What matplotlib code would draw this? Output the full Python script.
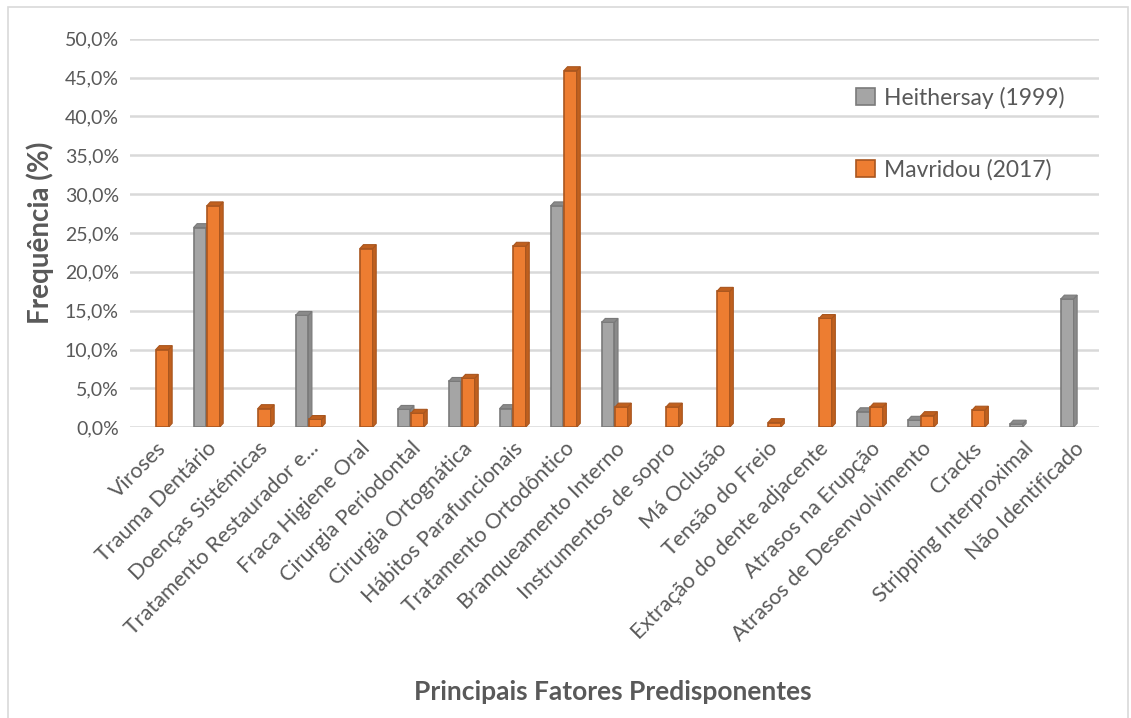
import numpy as np
import matplotlib.pyplot as plt
from matplotlib.patches import Polygon, Rectangle
from matplotlib.ticker import FuncFormatter

plt.rcParams['font.family'] = ['Lato', 'DejaVu Sans']

fatores = ['Viroses', 'Trauma Dentário', 'Doenças Sistémicas', 'Tratamento Restaurador e...',
           'Fraca Higiene Oral', 'Cirurgia Periodontal', 'Cirurgia Ortognática',
           'Hábitos Parafuncionais', 'Tratamento Ortodôntico', 'Branqueamento Interno',
           'Instrumentos de sopro', 'Má Oclusão', 'Tensão do Freio', 'Extração do dente adjacente',
           'Atrasos na Erupção', 'Atrasos de Desenvolvimento', 'Cracks',
           'Stripping Interproximal', 'Não Identificado']
heithersay = [0, 25.7, 0, 14.4, 0, 2.3, 5.9, 2.4, 28.5, 13.5, 0, 0, 0, 0, 2.0, 0.9, 0, 0.4, 16.5]
mavridou = [10.0, 28.5, 2.4, 1.0, 23.0, 1.8, 6.3, 23.3, 45.9, 2.6, 2.6, 17.5, 0.6, 14.0, 2.6, 1.5, 2.2, 0, 0]

txt = '#595959'
series = [('Heithersay (1999)', heithersay, '#A5A5A5', '#7A7A7A', '#8A8A8A'),
          ('Mavridou (2017)', mavridou, '#ED7D31', '#A9561F', '#C0601E')]

fig = plt.figure(figsize=(11.31, 7.18), dpi=100)
ax = fig.add_axes([0.115, 0.405, 0.857, 0.541])
fig.patches.append(Rectangle((0.007, -0.01), 0.99, 1.0, transform=fig.transFigure,
                             fill=False, edgecolor='#D9D9D9', lw=1.2))

x = np.arange(len(fatores))
w = 0.25
dx, dy = 0.07, 0.5
for i, (name, vals, fc, ec, side) in enumerate(series):
    off = (-0.13, 0.13)[i]
    vals = np.array(vals, dtype=float)
    keep = vals > 0
    ax.bar(x[keep] + off, vals[keep], w, color=fc, edgecolor=ec, lw=1.2, label=name, zorder=3)
    # fake 3d: side and top faces
    for xi, v in zip(x[keep] + off, vals[keep]):
        r = xi + w / 2
        l = xi - w / 2
        ax.add_patch(Polygon([(r, 0), (r + dx, dy), (r + dx, v + dy), (r, v)],
                             closed=True, facecolor=side, edgecolor=ec, lw=0.8, zorder=3))
        ax.add_patch(Polygon([(l, v), (l + dx, v + dy), (r + dx, v + dy), (r, v)],
                             closed=True, facecolor=side, edgecolor=ec, lw=0.8, zorder=3))

ax.set_xlim(-0.5, len(fatores) - 0.5)
ax.set_ylim(0, 50)
ax.set_yticks(np.arange(0, 51, 5))
ax.yaxis.set_major_formatter(FuncFormatter(lambda v, p: f'{v:.1f}%'.replace('.', ',')))
ax.grid(axis='y', color='#D9D9D9', lw=1.8, zorder=0)
for s in ax.spines.values():
    s.set_visible(False)
ax.tick_params(length=0, labelsize=14, colors=txt, pad=8)
ax.set_xticks(x)
ax.set_xticklabels(fatores, rotation=45, ha='right', rotation_mode='anchor', fontsize=15.5)

ax.set_ylabel('Frequência (%)', fontsize=20, fontweight='bold', color=txt, labelpad=8)
fig.text(0.542, 0.025, 'Principais Fatores Predisponentes', fontsize=19, fontweight='bold',
         color=txt, ha='center')

leg = ax.legend(loc='upper right', bbox_to_anchor=(0.985, 0.93), frameon=False, fontsize=16.5,
                labelspacing=2.2, handlelength=0.8, handleheight=0.8, handletextpad=0.4)
for t in leg.get_texts():
    t.set_color(txt)

fig.savefig('out.png', dpi=100)
